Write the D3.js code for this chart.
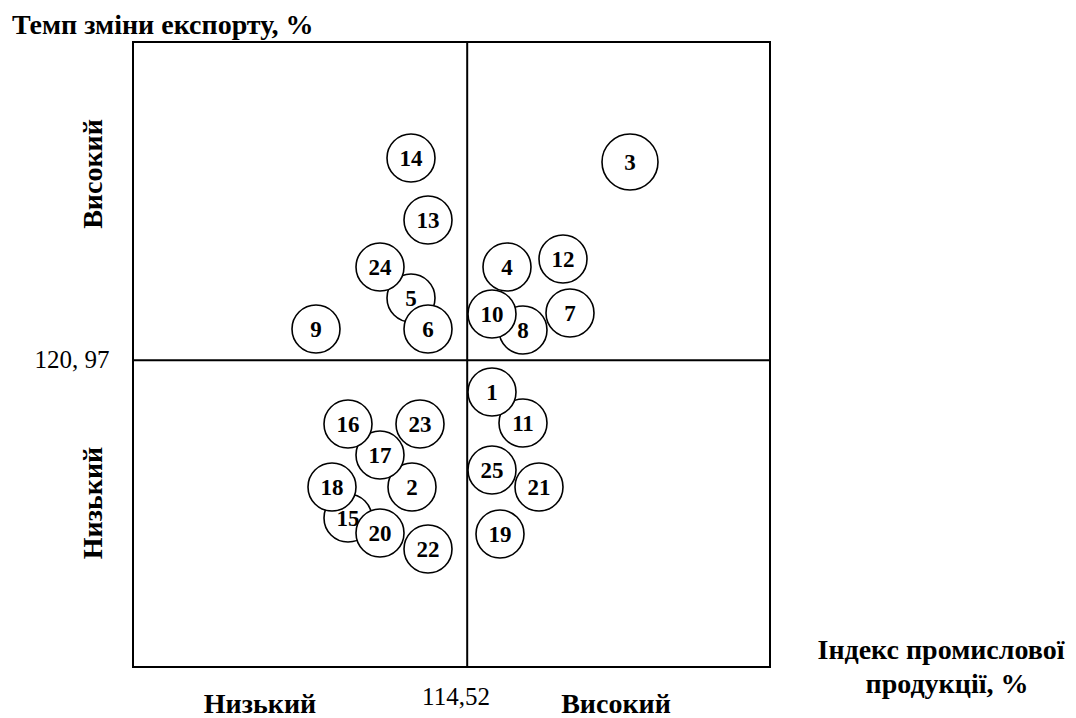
<!DOCTYPE html>
<html>
<head>
<meta charset="utf-8">
<script src="https://cdn.jsdelivr.net/npm/d3@7"></script>
<style>
  html, body { margin: 0; padding: 0; background: #fff; }
  svg { display: block; }
  text { font-family: "Liberation Serif", "Times New Roman", serif; fill: #000; }
</style>
</head>
<body>
<svg id="chart" width="1076" height="718"></svg>
<script>
// Region labels (listed in drawing order)
const regionIds = ["15", "5", "8", "11", "21", "2", "17", "22", "1", "3", "4", "6", "7", "9", "10", "12", "13", "14", "16", "18", "19", "20", "23", "24", "25"];
// Industrial production index, %
const industryIndex = [102.6, 108.9, 120.1, 120.1, 121.7, 109.0, 105.8, 110.6, 117.0, 130.8, 118.5, 110.6, 124.8, 99.4, 117.0, 124.1, 110.6, 108.9, 102.6, 101.0, 117.8, 105.8, 109.8, 105.8, 117.0];
// Export change rate, %
const exportRate = [105.2, 127.2, 124.0, 114.7, 108.3, 108.3, 111.5, 102.1, 117.8, 140.8, 130.3, 124.1, 125.7, 124.1, 125.6, 131.1, 135.0, 141.2, 114.6, 108.3, 103.6, 103.7, 114.6, 130.3, 110.0];
const largeMarks = ["3"];

// Thresholds (averages) and tick labels
const xThreshold = 114.52;
const yThreshold = 120.97;
const xThresholdLabel = "114,52";
const yThresholdLabel = "120, 97";
const xDomain = [81.1, 144.8];
const yDomain = [90.3, 152.8];

const yTitle = "Темп зміни експорту, %";
const xTitleLines = ["Індекс промислової", "продукції, %"];
const lowLabel = "Низький";
const highLabel = "Високий";

const svg = d3.select("#chart");
const plot = { left: 133, right: 770, top: 42, bottom: 667 };

const x = d3.scaleLinear().domain(xDomain).range([plot.left, plot.right]);
const y = d3.scaleLinear().domain(yDomain).range([plot.bottom, plot.top]);

// Frame
svg.append("rect")
  .attr("x", plot.left).attr("y", plot.top)
  .attr("width", plot.right - plot.left).attr("height", plot.bottom - plot.top)
  .attr("fill", "none").attr("stroke", "#000").attr("stroke-width", 2);

// Quadrant lines
svg.append("line")
  .attr("x1", x(xThreshold)).attr("x2", x(xThreshold))
  .attr("y1", plot.top).attr("y2", plot.bottom)
  .attr("stroke", "#000").attr("stroke-width", 2);
svg.append("line")
  .attr("x1", plot.left).attr("x2", plot.right)
  .attr("y1", y(yThreshold)).attr("y2", y(yThreshold))
  .attr("stroke", "#000").attr("stroke-width", 2);

// Points
const data = regionIds.map((id, i) => ({ id, xv: industryIndex[i], yv: exportRate[i] }));
const g = svg.append("g").selectAll("g").data(data).join("g")
  .attr("transform", d => `translate(${x(d.xv)},${y(d.yv)})`);
g.append("circle")
  .attr("r", d => largeMarks.includes(d.id) ? 28 : 24)
  .attr("fill", "#fff").attr("stroke", "#000").attr("stroke-width", 1.6);
g.append("text")
  .attr("text-anchor", "middle").attr("dy", "0.33em")
  .attr("font-weight", "bold").attr("font-size", 23)
  .text(d => d.id);

// Titles
svg.append("text").attr("x", 12).attr("y", 34)
  .attr("font-weight", "bold").attr("font-size", 28).text(yTitle);

svg.append("text").attr("x", 72).attr("y", y(yThreshold) + 8)
  .attr("text-anchor", "middle").attr("font-size", 25).text(yThresholdLabel);
svg.append("text").attr("x", 456).attr("y", 705)
  .attr("text-anchor", "middle").attr("font-size", 25).text(xThresholdLabel);

svg.append("text").attr("transform", "translate(102,174) rotate(-90)")
  .attr("text-anchor", "middle").attr("font-weight", "bold").attr("font-size", 28).text(highLabel);
svg.append("text").attr("transform", "translate(102,503) rotate(-90)")
  .attr("text-anchor", "middle").attr("font-weight", "bold").attr("font-size", 28).text(lowLabel);

svg.append("text").attr("x", 260).attr("y", 713)
  .attr("text-anchor", "middle").attr("font-weight", "bold").attr("font-size", 28).text(lowLabel);
svg.append("text").attr("x", 616).attr("y", 713)
  .attr("text-anchor", "middle").attr("font-weight", "bold").attr("font-size", 28).text(highLabel);

svg.append("text").attr("x", 941).attr("y", 659)
  .attr("text-anchor", "middle").attr("font-weight", "bold").attr("font-size", 28).text(xTitleLines[0]);
svg.append("text").attr("x", 947).attr("y", 693)
  .attr("text-anchor", "middle").attr("font-weight", "bold").attr("font-size", 28).text(xTitleLines[1]);
</script>
</body>
</html>
